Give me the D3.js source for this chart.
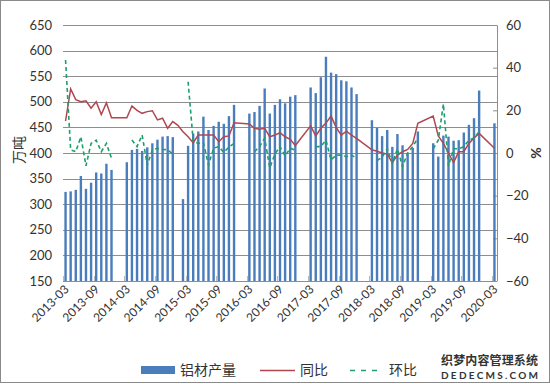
<!DOCTYPE html>
<html>
<head>
<meta charset="utf-8">
<script src="https://cdn.jsdelivr.net/npm/d3@7"></script>
<style>
  body { margin: 0; background: #fff; }
  svg { display: block; }
  text { font-family: Lato, "Noto Sans", sans-serif; fill: #333; }
  .cjk { font-family: "Noto Sans CJK SC", sans-serif; }
</style>
</head>
<body>
<script>
(function(){

    //month range of the chart
    var startYear = 2013, startMonth = 3, monthCount = 85;

    //铝材产量 (万吨), null = no data
    var production = [
        324, 325, 328, 355, 330, 342, 362, 360, 379, 367,
        null, null,
        382, 406, 408, 404, 411, 419, 426, 432, 433, 431,
        null, 310,
        414, 438, 442, 471, 445, 453, 461, 457, 472, 494,
        null, null,
        477, 480, 492, 526, 477, 494, 505, 497, 510, 513,
        null, null,
        528, 517, 548, 588, 557, 554, 542, 540, 528, 515,
        null, null,
        464, 449, 433, 445, 412, 437, 415, 399, 410, 442,
        null, null,
        419, 393, 434, 432, 424, 425, 440, 455, 468, 522,
        null, null,
        458
    ];

    //同比 (%)
    var yoy = [
        15, 30, 25, 24, 24.5, 21, 24, 18, 23.5, 16.5,
        null, null,
        16.5, 22, 20, 18.6, 19.4, 19.8, 15.5, 16.3, 11.6, 14.7,
        13, 10,
        7.6, 4.8, 8.4, 8.4, 8.4, 8.4, 5.3, 7.6, 8, 14.2,
        null, null,
        13.6, 11.6, 11.1, 11.6, 7.6, 8.4, 9.5, 7.6, 6.4, 3.5,
        null, null,
        12.7, 8, 11.6, 14, 17.3, 12, 8.4, 10.2, 8.4, 6.9,
        null, null,
        1.5, 0.8, 0, -0.5, -4.5, -1, 0.6, 1.7, 4.5, 13.9,
        null, null,
        17.3, 8, 4.5, 0, -4.5, 0.6, 0.6, 4.5, 7, 9.2,
        null, null,
        2.2
    ];

    //环比 (%)
    var mom = [
        43.6, 1.5, 0.6, 7.6, -6, 4.5, 6, 0.6, 4.5, -2.5,
        null, null,
        null, 6.1, 3, 8.4, -5.6, 1.4, 2.2, 1.7, 1.5, -0.5,
        null, null,
        33.4, 5.5, 4.5, 4.8, -5.6, 2.2, 3, 0.3, 2.8, 4.5,
        null, null,
        null, 0.6, 3, 6.9, -7, -0.5, 3, -1.4, 2.2, 1.4,
        null, null,
        null, 3, 3, 6, -3.3, -1, -1, -1.7, -1, -2.5,
        null, null,
        null, -3.5, -2, 2, -4.8, 2, -6.4, 0, 3, 7,
        null, null,
        2, 6, 23, -6, 2, 2, 3, 6, 7, 10,
        null, null,
        null
    ];

    var leftTicks = [150, 200, 250, 300, 350, 400, 450, 500, 550, 600, 650];
    var rightTicks = [-60, -40, -20, 0, 20, 40, 60];
    var legendNames = ["铝材产量", "同比", "环比"];

    //category labels, yyyy-mm
    var months = [];
    for (var i = 0; i < monthCount; i++){
        var m = startMonth - 1 + i;
        var y = startYear + Math.floor(m / 12);
        months.push(y + "-" + d3.format("02")(m % 12 + 1));
    }

    var width = 550, height = 384;
    var plot = {left: 63, right: 497, top: 25, bottom: 281};
    var barColor = "#4a7dbb", yoyColor = "#b0474f", momColor = "#1f9e6c", gridColor = "#8e8e8e";

    var svg = d3.select("body").append("svg")
        .attr("width", width)
        .attr("height", height);

    //outer frame
    svg.append("rect")
        .attr("x", 0.5).attr("y", 0.5)
        .attr("width", width - 1).attr("height", height - 2)
        .attr("fill", "#fff")
        .attr("stroke", "#8a8a8a");

    var x = d3.scaleBand()
        .domain(months)
        .range([plot.left, plot.right]);

    var yLeft = d3.scaleLinear()
        .domain([150, 650])
        .range([plot.bottom, plot.top]);

    var yRight = d3.scaleLinear()
        .domain([-60, 60])
        .range([plot.bottom, plot.top]);

    //horizontal grid
    svg.append("g")
        .selectAll("line")
        .data(leftTicks)
        .enter()
        .append("line")
        .attr("x1", plot.left).attr("x2", plot.right)
        .attr("y1", function(d){ return Math.round(yLeft(d)) + 0.5; })
        .attr("y2", function(d){ return Math.round(yLeft(d)) + 0.5; })
        .attr("stroke", gridColor)
        .attr("stroke-width", 1);

    //left axis labels
    var leftAxis = svg.append("g")
        .attr("transform", "translate(" + plot.left + ",0)")
        .call(d3.axisLeft(yLeft).tickValues(leftTicks).tickSize(0).tickPadding(11));
    leftAxis.select(".domain").remove();
    leftAxis.selectAll("text")
        .attr("font-size", 13)
        .attr("fill", "#333")
        .style("font-family", "Lato, sans-serif");

    //right axis
    var rightAxis = svg.append("g")
        .attr("transform", "translate(" + plot.right + ",0)")
        .call(d3.axisRight(yRight).tickValues(rightTicks).tickSizeInner(-4).tickSizeOuter(0).tickPadding(9));
    rightAxis.select(".domain").attr("stroke", gridColor);
    rightAxis.selectAll("line").attr("stroke", gridColor);
    rightAxis.selectAll("text")
        .attr("font-size", 13)
        .attr("fill", "#333")
        .style("font-family", "Lato, sans-serif");

    //bars
    var barW = 2.4;
    svg.append("g")
        .selectAll("rect")
        .data(months.map(function(m, i){ return {m: m, v: production[i]}; })
            .filter(function(d){ return d.v !== null; }))
        .enter()
        .append("rect")
        .attr("x", function(d){ return x(d.m) + x.bandwidth() / 2 - barW / 2; })
        .attr("y", function(d){ return yLeft(d.v); })
        .attr("width", barW)
        .attr("height", function(d){ return yLeft(150) - yLeft(d.v); })
        .attr("fill", barColor);

    //x axis line and ticks
    svg.append("line")
        .attr("x1", plot.left).attr("x2", plot.right)
        .attr("y1", plot.bottom + 0.5).attr("y2", plot.bottom + 0.5)
        .attr("stroke", gridColor);

    var labelMonths = months.filter(function(d, i){ return i % 6 === 0; });

    svg.append("g")
        .selectAll("line")
        .data(labelMonths)
        .enter()
        .append("line")
        .attr("x1", function(d){ return Math.round(x(d)) + 0.5; })
        .attr("x2", function(d){ return Math.round(x(d)) + 0.5; })
        .attr("y1", plot.bottom).attr("y2", plot.bottom - 5)
        .attr("stroke", "#b8b8b8");

    svg.append("g")
        .selectAll("text")
        .data(labelMonths)
        .enter()
        .append("text")
        .attr("transform", function(d){
            return "translate(" + (x(d) + x.bandwidth() / 2 + 4) + "," + (plot.bottom + 9) + ") rotate(-45)";
        })
        .attr("text-anchor", "end")
        .attr("font-size", 12)
        .attr("fill", "#333")
        .text(function(d){ return d; });

    //lines
    var yoyLine = d3.line()
        .defined(function(d){ return d.v !== null; })
        .x(function(d){ return x(d.m) + x.bandwidth() / 2; })
        .y(function(d){ return yRight(d.v); });

    var yoyData = months.map(function(m, i){ return {m: m, v: yoy[i]}; })
        .filter(function(d){ return d.v !== null; });

    svg.append("path")
        .datum(yoyData)
        .attr("d", yoyLine)
        .attr("fill", "none")
        .attr("stroke", yoyColor)
        .attr("stroke-width", 1.5);

    var momData = months.map(function(m, i){ return {m: m, v: mom[i]}; });

    svg.append("path")
        .datum(momData)
        .attr("d", yoyLine)
        .attr("fill", "none")
        .attr("stroke", momColor)
        .attr("stroke-width", 1.6)
        .attr("stroke-dasharray", "4,3");

    //axis titles
    svg.append("text")
        .attr("class", "cjk")
        .attr("transform", "translate(24,150) rotate(-90)")
        .attr("text-anchor", "middle")
        .attr("font-size", 14)
        .attr("fill", "#222")
        .text("万吨");

    svg.append("text")
        .attr("transform", "translate(541,153) rotate(-90)")
        .attr("text-anchor", "middle")
        .attr("font-size", 14)
        .attr("font-weight", "bold")
        .attr("fill", "#222")
        .text("%");

    //legend
    var legend = svg.append("g").attr("transform", "translate(0,370)");

    legend.append("rect")
        .attr("x", 141).attr("y", -4)
        .attr("width", 34).attr("height", 8)
        .attr("fill", barColor);
    legend.append("line")
        .attr("x1", 260).attr("x2", 295)
        .attr("y1", 0.5).attr("y2", 0.5)
        .attr("stroke", yoyColor).attr("stroke-width", 1.5);
    legend.append("line")
        .attr("x1", 350).attr("x2", 382)
        .attr("y1", 0.5).attr("y2", 0.5)
        .attr("stroke", momColor).attr("stroke-width", 1.6)
        .attr("stroke-dasharray", "5,6");

    var legendX = [180, 300, 389];
    legend.selectAll(".legendText")
        .data(legendNames)
        .enter()
        .append("text")
        .attr("class", "cjk")
        .attr("x", function(d, i){ return legendX[i]; })
        .attr("y", 5)
        .attr("font-size", 14)
        .attr("fill", "#222")
        .text(function(d){ return d; });

    //watermark of the source picture
    svg.append("text")
        .attr("class", "cjk")
        .attr("x", 441).attr("y", 365)
        .attr("font-size", 12)
        .attr("font-weight", "bold")
        .attr("fill", "#222")
        .attr("textLength", 97)
        .text("织梦内容管理系统");
    svg.append("text")
        .attr("x", 441).attr("y", 379)
        .attr("font-size", 10)
        .attr("font-weight", "bold")
        .attr("fill", "#222")
        .attr("textLength", 97)
        .text("DEDECMS.COM");

})();
</script>
</body>
</html>
